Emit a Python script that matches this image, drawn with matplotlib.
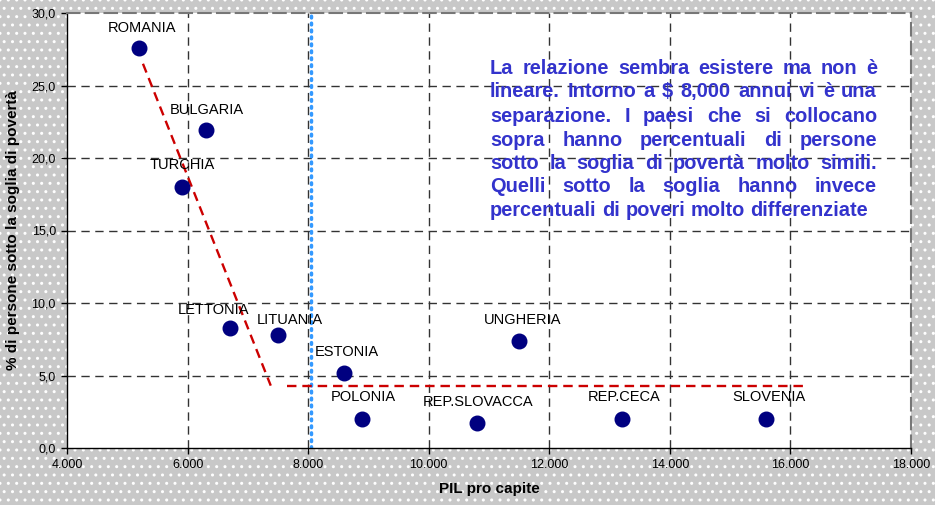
import matplotlib
matplotlib.use("Agg")
import numpy as np
from matplotlib import pyplot as plt

# dati
paesi = ["ROMANIA", "BULGARIA", "TURCHIA", "LETTONIA", "LITUANIA", "ESTONIA",
         "POLONIA", "REP.SLOVACCA", "UNGHERIA", "REP.CECA", "SLOVENIA"]
pil = [5200, 6300, 5900, 6700, 7500, 8600, 8900, 10800, 11500, 13200, 15600]
poveri = [27.6, 21.9, 18.0, 8.3, 7.8, 5.2, 2.0, 1.7, 7.4, 2.0, 2.0]
# spostamento delle etichette (pixel)
etich_dx = [3, 1, 1, -16, 12, 2, 1, 1, 3, 2, 3]
etich_dy = [20, 20, 22, 18, 15, 21, 22, 21, 21, 22, 22]

trend1_x = [5260, 7380]
trend1_y = [26.5, 4.3]
trend2_x = [7650, 16250]
trend2_y = [4.3, 4.3]
soglia_pil = 8050

x_ticks = [4000, 6000, 8000, 10000, 12000, 14000, 16000, 18000]
y_ticks = [0, 5, 10, 15, 20, 25, 30]

righe = ["La relazione sembra esistere ma non è",
         "lineare. Intorno a $ 8,000 annui vi è una",
         "separazione. I paesi che si collocano",
         "sopra hanno percentuali di persone",
         "sotto la soglia di povertà molto simili.",
         "Quelli sotto la soglia hanno invece",
         "percentuali di poveri molto differenziate"]

plt.rcParams['font.family'] = ['Liberation Sans', 'DejaVu Sans']
plt.rcParams['hatch.color'] = 'white'

W, H = 935, 505
fig = plt.figure(figsize=(W / 100, H / 100), dpi=100)
fig.patch.set_facecolor('#c8c8c8')
fig.patch.set_edgecolor('white')
fig.patch.set_hatch('..')

ax = fig.add_axes([67 / W, 1 - 448 / H, (911 - 67) / W, (448 - 13) / H])
ax.set_facecolor('white')
ax.set_xlim(4000, 18000)
ax.set_ylim(0, 30)
ax.set_xticks(x_ticks)
ax.set_yticks(y_ticks)
ax.set_xticklabels([f"{v:,}".replace(",", ".") for v in x_ticks], fontsize=9)
ax.set_yticklabels([f"{v:.1f}".replace(".", ",") for v in y_ticks], fontsize=9)
ax.tick_params(direction='out', length=4, width=1, pad=4)

for v in x_ticks[1:-1]:
    ax.axvline(v, color='#333333', lw=1, dashes=(6, 4), zorder=1)
for v in y_ticks[1:-1]:
    ax.axhline(v, color='#333333', lw=1, dashes=(6, 4), zorder=1)

for s in ['top', 'right']:
    ax.spines[s].set_color('#777777')
    ax.spines[s].set_linestyle((0, (6, 3)))
    ax.spines[s].set_linewidth(1.5)
for s in ['left', 'bottom']:
    ax.spines[s].set_color('black')
    ax.spines[s].set_linewidth(1)

ax.axvline(soglia_pil, color='#3399ff', lw=2.5, ls=(0, (0.5, 1.5)),
           dash_capstyle='round', zorder=2)
ax.plot(trend1_x, trend1_y, color='#cc0000', lw=1.7, dashes=(4, 2.5), zorder=2)
ax.plot(trend2_x, trend2_y, color='#cc0000', lw=1.7, dashes=(4, 2.5), zorder=2)

ax.scatter(pil, poveri, s=110, color='#000080', zorder=3)
for p, x, y, dx, dy in zip(paesi, pil, poveri, etich_dx, etich_dy):
    ax.annotate(p, (x, y), xytext=(dx, dy), textcoords='offset pixels',
                ha='center', va='center', fontsize=10.5, color='black', zorder=4)

ax.set_xlabel("PIL pro capite", fontsize=11, fontweight='bold', labelpad=8)
ax.set_ylabel("% di persone sotto la soglia di povertà", fontsize=11,
              fontweight='bold', labelpad=8)

# testo giustificato
blu = '#3333cc'
x0, x1 = 490, 877
y_riga = [68, 92, 116, 140, 163, 187, 211]
renderer = fig.canvas.get_renderer()
fs = 14.4
for i, (riga, yy) in enumerate(zip(righe, y_riga)):
    parole = riga.split()
    objs = [fig.text(0, 1 - yy / H, w, fontsize=fs, fontweight='bold', color=blu,
                     va='center', ha='left') for w in parole]
    larg = [o.get_window_extent(renderer).width for o in objs]
    if i == len(righe) - 1:
        sp = fig.text(0, 0, "a b", fontsize=fs, fontweight='bold')
        gap = sp.get_window_extent(renderer).width
        sp.remove()
        ab = fig.text(0, 0, "ab", fontsize=fs, fontweight='bold')
        gap -= ab.get_window_extent(renderer).width
        ab.remove()
    else:
        gap = (x1 - x0 - sum(larg)) / (len(parole) - 1)
    xx = x0
    for o, w in zip(objs, larg):
        o.set_x(xx / W)
        xx += w + gap

fig.savefig("out.png", dpi=100, facecolor=fig.get_facecolor())
